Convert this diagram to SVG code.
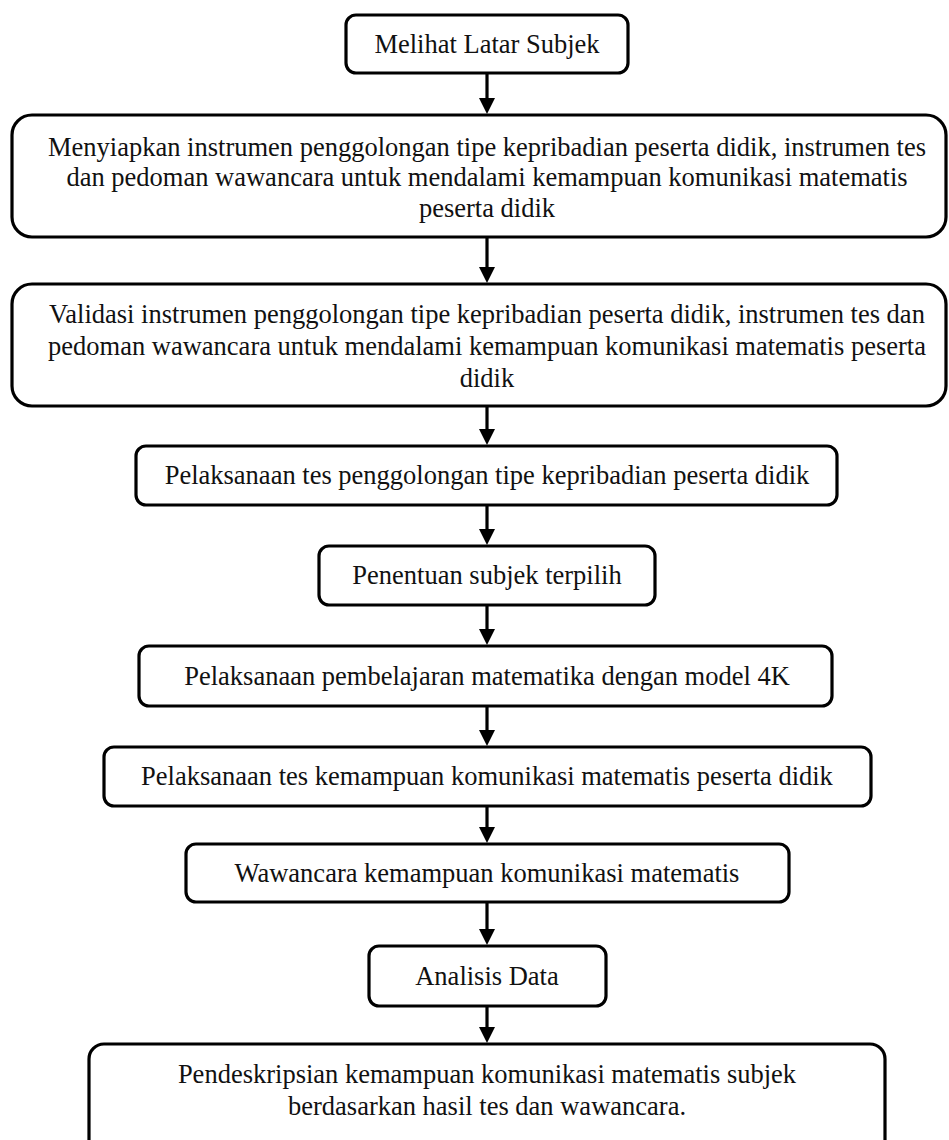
<svg xmlns="http://www.w3.org/2000/svg" width="949" height="1140" viewBox="0 0 949 1140">
<style>
.box{fill:#fff;stroke:#000;stroke-width:3.2}
.t{font-family:"Liberation Serif","Times New Roman",serif;font-size:26.5px;fill:#111;text-anchor:middle}
.c{stroke:#000;stroke-width:3.2;fill:none}
</style>
<defs>
<marker id="ah" markerUnits="userSpaceOnUse" markerWidth="16" markerHeight="16" viewBox="0 0 16 16" refX="0" refY="8" orient="auto">
<path d="M0,0 L16,8 L0,16 Z" fill="#000"/>
</marker>
</defs>
<rect width="949" height="1140" fill="#fff"/>
<g id="connectors">
<line class="c" x1="487" y1="74" x2="487" y2="98" marker-end="url(#ah)"/>
<line class="c" x1="487" y1="238" x2="487" y2="267" marker-end="url(#ah)"/>
<line class="c" x1="487" y1="407" x2="487" y2="429" marker-end="url(#ah)"/>
<line class="c" x1="487" y1="506" x2="487" y2="529" marker-end="url(#ah)"/>
<line class="c" x1="487" y1="606" x2="487" y2="629" marker-end="url(#ah)"/>
<line class="c" x1="487" y1="707" x2="487" y2="730" marker-end="url(#ah)"/>
<line class="c" x1="487" y1="807" x2="487" y2="827" marker-end="url(#ah)"/>
<line class="c" x1="487" y1="903" x2="487" y2="929" marker-end="url(#ah)"/>
<line class="c" x1="487" y1="1007" x2="487" y2="1027" marker-end="url(#ah)"/>
</g>
<g id="n1"><rect class="box" x="346" y="15" width="282" height="58" rx="10"/>
<text class="t" x="487" y="53">Melihat Latar Subjek</text></g>
<g id="n2"><rect class="box" x="12" y="115" width="934" height="122" rx="20"/>
<text class="t" x="487" y="156">Menyiapkan instrumen penggolongan tipe kepribadian peserta didik, instrumen tes</text>
<text class="t" x="487" y="186">dan pedoman wawancara untuk mendalami kemampuan komunikasi matematis</text>
<text class="t" x="487" y="217">peserta didik</text></g>
<g id="n3"><rect class="box" x="12" y="284" width="934" height="122" rx="20"/>
<text class="t" x="487" y="323">Validasi instrumen penggolongan tipe kepribadian peserta didik, instrumen tes dan</text>
<text class="t" x="487" y="355">pedoman wawancara untuk mendalami kemampuan komunikasi matematis peserta</text>
<text class="t" x="487" y="387">didik</text></g>
<g id="n4"><rect class="box" x="136" y="446" width="701" height="59" rx="10"/>
<text class="t" x="487" y="484">Pelaksanaan tes penggolongan tipe kepribadian peserta didik</text></g>
<g id="n5"><rect class="box" x="319" y="546" width="336" height="59" rx="10"/>
<text class="t" x="487" y="584">Penentuan subjek terpilih</text></g>
<g id="n6"><rect class="box" x="139" y="646" width="693" height="60" rx="10"/>
<text class="t" x="487" y="685">Pelaksanaan pembelajaran matematika dengan model 4K</text></g>
<g id="n7"><rect class="box" x="104" y="747" width="767" height="59" rx="10"/>
<text class="t" x="487" y="785">Pelaksanaan tes kemampuan komunikasi matematis peserta didik</text></g>
<g id="n8"><rect class="box" x="186" y="844" width="603" height="58" rx="10"/>
<text class="t" x="487" y="882">Wawancara kemampuan komunikasi matematis</text></g>
<g id="n9"><rect class="box" x="369" y="946" width="237" height="60" rx="10"/>
<text class="t" x="487" y="985">Analisis Data</text></g>
<g id="n10"><rect class="box" x="89" y="1044" width="796" height="120" rx="15"/>
<text class="t" x="487" y="1083">Pendeskripsian kemampuan komunikasi matematis subjek</text>
<text class="t" x="487" y="1115">berdasarkan hasil tes dan wawancara.</text></g>
</svg>
